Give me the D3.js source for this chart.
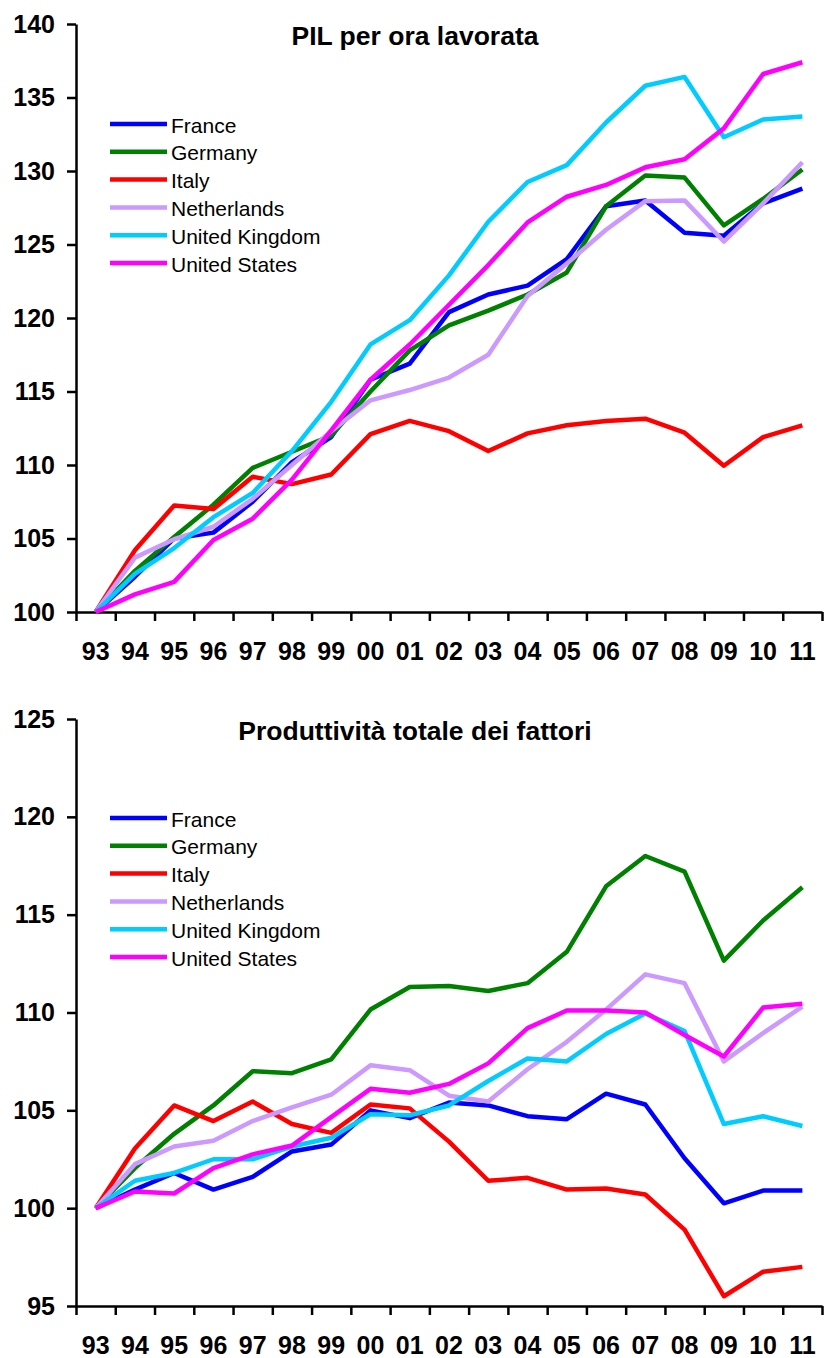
<!DOCTYPE html>
<html>
<head>
<meta charset="utf-8">
<script src="https://cdn.jsdelivr.net/npm/d3@7"></script>
<style>
  html, body { margin: 0; padding: 0; background: #fff; }
  svg { display: block; }
  text { font-family: "Liberation Sans", Arial, sans-serif; }
</style>
</head>
<body>
<script>
// ---- Data ----
const years = ["93","94","95","96","97","98","99","00","01","02","03","04","05","06","07","08","09","10","11"];
const countries = ["France","Germany","Italy","Netherlands","United Kingdom","United States"];
const colors = ["#0000FF","#008000","#FF0000","#CC99FF","#00CCFF","#FF00FF"];

// PIL per ora lavorata (1993 = 100)
const pilFrance      = [100,102.4,105.0,105.4,107.5,110.2,111.9,115.8,116.9,120.4,121.6,122.2,124.0,127.6,128.0,125.8,125.6,127.8,128.8];
const pilGermany     = [100,102.8,105.1,107.3,109.8,110.9,112.0,115.0,117.8,119.5,120.5,121.6,123.1,127.6,129.7,129.55,126.3,128.1,130.1];
const pilItaly       = [100,104.2,107.25,107.0,109.2,108.7,109.35,112.1,113.0,112.3,110.95,112.15,112.7,113.0,113.15,112.2,109.95,111.9,112.7];
const pilNetherlands = [100,103.7,104.95,105.8,107.7,110.0,112.3,114.4,115.1,115.95,117.5,121.5,123.7,126.0,127.95,128.0,125.2,127.8,130.6];
const pilUK          = [100,102.6,104.35,106.45,108.1,110.95,114.3,118.2,119.85,122.9,126.55,129.25,130.4,133.3,135.8,136.4,132.3,133.5,133.7];
const pilUS          = [100,101.2,102.05,104.9,106.35,109.0,112.35,115.8,118.2,120.9,123.6,126.5,128.25,129.05,130.25,130.8,132.9,136.6,137.4];

// Produttività totale dei fattori (1993 = 100)
const ptfFrance      = [100,100.95,101.8,100.95,101.6,102.9,103.25,105.0,104.6,105.4,105.25,104.7,104.55,105.85,105.3,102.55,100.25,100.9,100.9];
const ptfGermany     = [100,102.05,103.8,105.25,107.0,106.9,107.6,110.15,111.3,111.35,111.1,111.5,113.1,116.45,118.0,117.2,112.65,114.7,116.4];
const ptfItaly       = [100,103.05,105.25,104.45,105.45,104.3,103.85,105.3,105.1,103.4,101.4,101.55,100.95,101.0,100.7,98.9,95.5,96.75,97.0];
const ptfNetherlands = [100,102.25,103.15,103.45,104.45,105.15,105.8,107.3,107.05,105.75,105.45,107.1,108.5,110.15,111.95,111.5,107.5,108.95,110.3];
const ptfUK          = [100,101.4,101.8,102.5,102.5,103.15,103.6,104.8,104.75,105.25,106.5,107.65,107.5,108.9,109.95,109.05,104.3,104.7,104.2];
const ptfUS          = [100,100.85,100.75,102.05,102.75,103.2,104.65,106.1,105.9,106.35,107.4,109.2,110.1,110.1,110.0,108.85,107.75,110.25,110.45];

const pilTicks = [100,105,110,115,120,125,130,135,140];
const ptfTicks = [95,100,105,110,115,120,125];

// ---- Drawing ----
const W = 826, H = 1358;
const svg = d3.select("body").append("svg").attr("width", W).attr("height", H);
const FONT = '"Liberation Sans", Arial, sans-serif';

function panel(cfg) {
  const g = svg.append("g");
  const x = d3.scaleBand().domain(years).range([76, 822]);
  const xEdge = d3.scaleLinear().domain([0, years.length]).range([76, 822]);
  const y = d3.scaleLinear().domain(cfg.domain).range([cfg.bottom, cfg.top]);

  // Y axis
  const ya = g.append("g").attr("transform", "translate(76,0)")
    .call(d3.axisLeft(y).tickValues(cfg.ticks).tickSize(9).tickSizeOuter(0).tickPadding(12).tickFormat(d3.format("d")));
  ya.select(".domain").attr("stroke", "#000").attr("stroke-width", 2.5);
  ya.selectAll(".tick line").attr("stroke", "#000").attr("stroke-width", 2.5);
  ya.selectAll(".tick text").attr("font-family", FONT).attr("font-weight", "bold").attr("font-size", 25).attr("fill", "#000");

  // X axis tick marks at category boundaries
  const xa = g.append("g").attr("transform", `translate(0,${cfg.bottom})`)
    .call(d3.axisBottom(xEdge).tickValues(d3.range(years.length + 1)).tickSize(9).tickSizeOuter(0).tickFormat(""));
  xa.select(".domain").attr("stroke", "#000").attr("stroke-width", 2.5);
  xa.selectAll(".tick line").attr("stroke", "#000").attr("stroke-width", 2.5);

  // X axis labels at category centres
  const xl = g.append("g").attr("transform", `translate(0,${cfg.bottom})`)
    .call(d3.axisBottom(x).tickSize(0).tickPadding(30));
  xl.select(".domain").remove();
  xl.selectAll(".tick text").attr("font-family", FONT).attr("font-weight", "bold").attr("font-size", 25).attr("fill", "#000");

  // Series lines
  const line = d3.line()
    .x((d, i) => x(years[i]) + x.bandwidth() / 2)
    .y(d => y(d));
  cfg.series.forEach((s, i) => {
    g.append("path").datum(s)
      .attr("fill", "none")
      .attr("stroke", colors[i])
      .attr("stroke-width", 4.5)
      .attr("stroke-linejoin", "round")
      .attr("d", line);
  });

  // Title
  g.append("text").attr("x", 415).attr("y", cfg.titleY)
    .attr("text-anchor", "middle").attr("font-family", FONT)
    .attr("font-weight", "bold").attr("font-size", 26.5).attr("fill", "#000")
    .text(cfg.title);

  // Legend
  const lg = g.append("g");
  countries.forEach((c, i) => {
    const ly = cfg.legendY + i * 27.8;
    lg.append("line").attr("x1", 110).attr("x2", 167).attr("y1", ly).attr("y2", ly)
      .attr("stroke", colors[i]).attr("stroke-width", 4.5);
    lg.append("text").attr("x", 171).attr("y", ly + 8.5)
      .attr("font-family", FONT).attr("font-size", 21).attr("fill", "#000").text(c);
  });
}

panel({
  domain: [100, 140], ticks: pilTicks, top: 24, bottom: 612,
  title: "PIL per ora lavorata", titleY: 45, legendY: 124,
  series: [pilFrance, pilGermany, pilItaly, pilNetherlands, pilUK, pilUS]
});
panel({
  domain: [95, 125], ticks: ptfTicks, top: 719, bottom: 1306,
  title: "Produttività totale dei fattori", titleY: 740, legendY: 818,
  series: [ptfFrance, ptfGermany, ptfItaly, ptfNetherlands, ptfUK, ptfUS]
});
</script>
</body>
</html>
